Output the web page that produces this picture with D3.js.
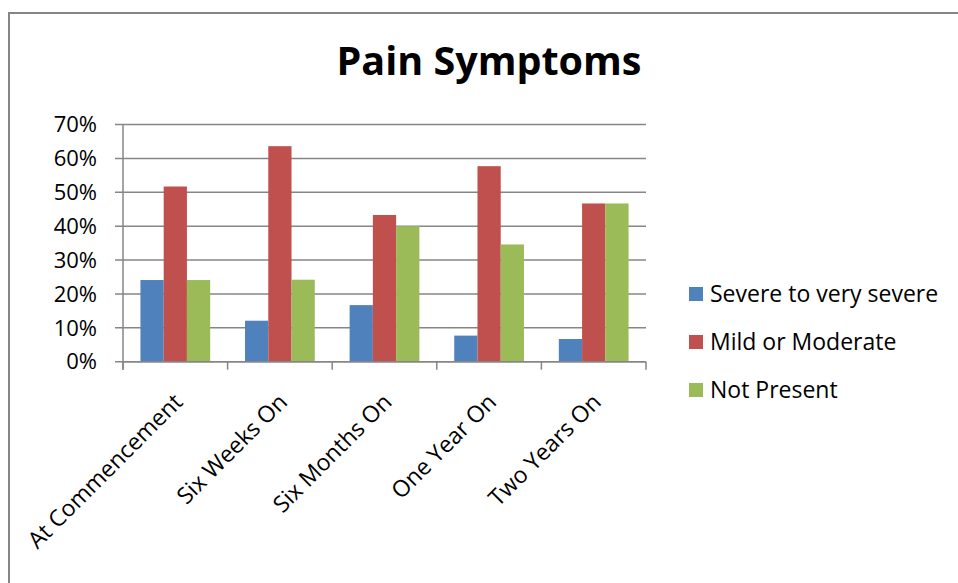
<html>
<head>
<meta charset="utf8">
<title>Pain Symptoms</title>
<style>
body { margin:0; background:white; }
</style>
<script src="https://d3js.org/d3.v7.min.js"></script>
</head>
<body>
<div id="chart"></div>
<script>
var categories = ["At Commencement", "Six Weeks On", "Six Months On", "One Year On", "Two Years On"];
var seriesNames = ["Severe to very severe", "Mild or Moderate", "Not Present"];
var severe = [0.241, 0.121, 0.167, 0.077, 0.067];
var mild = [0.517, 0.636, 0.433, 0.577, 0.467];
var notPresent = [0.241, 0.242, 0.400, 0.346, 0.467];
var yTicks = [0, 0.1, 0.2, 0.3, 0.4, 0.5, 0.6, 0.7];
var colors = ["#4F81BD", "#C0504D", "#9BBB59"];

var width = 958, height = 583;
var font = "'Open Sans', sans-serif";
var series = [severe, mild, notPresent];

// plot area
var plotLeft = 123, plotRight = 646, plotTop = 124.5, plotBottom = 361.7;

var svg = d3.select("#chart").append("svg")
    .attr("width", width)
    .attr("height", height);

// chart border
svg.append("rect")
    .attr("x", 9).attr("y", 13)
    .attr("width", 960).attr("height", 600)
    .attr("fill", "white")
    .attr("stroke", "#868686")
    .attr("stroke-width", 2);

// title
svg.append("text")
    .attr("x", 489).attr("y", 75)
    .attr("text-anchor", "middle")
    .attr("font-family", font)
    .attr("font-weight", "bold")
    .attr("font-size", 39.5)
    .text("Pain Symptoms");

var x = d3.scaleBand().domain(categories).range([plotLeft, plotRight]);
var y = d3.scaleLinear().domain([0, 0.7]).range([plotBottom, plotTop]);
var barW = x.bandwidth() / 4.5;

// gridlines
svg.append("g").selectAll("line").data(yTicks).join("line")
    .attr("x1", plotLeft - 8).attr("x2", plotRight)
    .attr("y1", function(d){ return y(d); })
    .attr("y2", function(d){ return y(d); })
    .attr("stroke", "#868686")
    .attr("stroke-width", 1.5);

// y labels
svg.append("g").selectAll("text").data(yTicks).join("text")
    .attr("x", 97)
    .attr("y", function(d){ return y(d); })
    .attr("dy", "0.35em")
    .attr("text-anchor", "end")
    .attr("font-family", font)
    .attr("font-size", 22)
    .text(function(d){ return Math.round(d * 100) + "%"; });

// bars
series.forEach(function(vals, s){
    svg.append("g").selectAll("rect").data(vals).join("rect")
        .attr("x", function(d, i){ return x(categories[i]) + barW * 0.75 + s * barW; })
        .attr("y", function(d){ return y(d); })
        .attr("width", barW)
        .attr("height", function(d){ return plotBottom - y(d); })
        .attr("fill", colors[s]);
});

// axis lines
svg.append("line")
    .attr("x1", plotLeft).attr("x2", plotLeft)
    .attr("y1", plotTop).attr("y2", plotBottom + 8)
    .attr("stroke", "#868686").attr("stroke-width", 1.5);
svg.append("line")
    .attr("x1", plotLeft).attr("x2", plotRight)
    .attr("y1", plotBottom).attr("y2", plotBottom)
    .attr("stroke", "#868686").attr("stroke-width", 1.5);

var tickX = categories.map(function(c){ return x(c); }).concat([plotRight]);
svg.append("g").selectAll("line").data(tickX).join("line")
    .attr("x1", function(d){ return d; }).attr("x2", function(d){ return d; })
    .attr("y1", plotBottom).attr("y2", plotBottom + 8)
    .attr("stroke", "#868686").attr("stroke-width", 1.5);

// category labels
svg.append("g").selectAll("text").data(categories).join("text")
    .attr("transform", function(d){
        return "translate(" + (x(d) + x.bandwidth() / 2 + 3) + "," + (plotBottom + 36) + ") rotate(-45)";
    })
    .attr("text-anchor", "end")
    .attr("dy", "0.35em")
    .attr("font-family", font)
    .attr("font-size", 23)
    .text(function(d){ return d; });

// legend
var legend = svg.append("g").selectAll("g").data(seriesNames).join("g")
    .attr("transform", function(d, i){ return "translate(689," + (294 + i * 48) + ")"; });
legend.append("rect")
    .attr("x", 0).attr("y", -7)
    .attr("width", 14).attr("height", 14)
    .attr("fill", function(d, i){ return colors[i]; });
legend.append("text")
    .attr("x", 21).attr("y", 0)
    .attr("dy", "0.35em")
    .attr("font-family", font)
    .attr("font-size", 23)
    .text(function(d){ return d; });
</script>
</body>
</html>
